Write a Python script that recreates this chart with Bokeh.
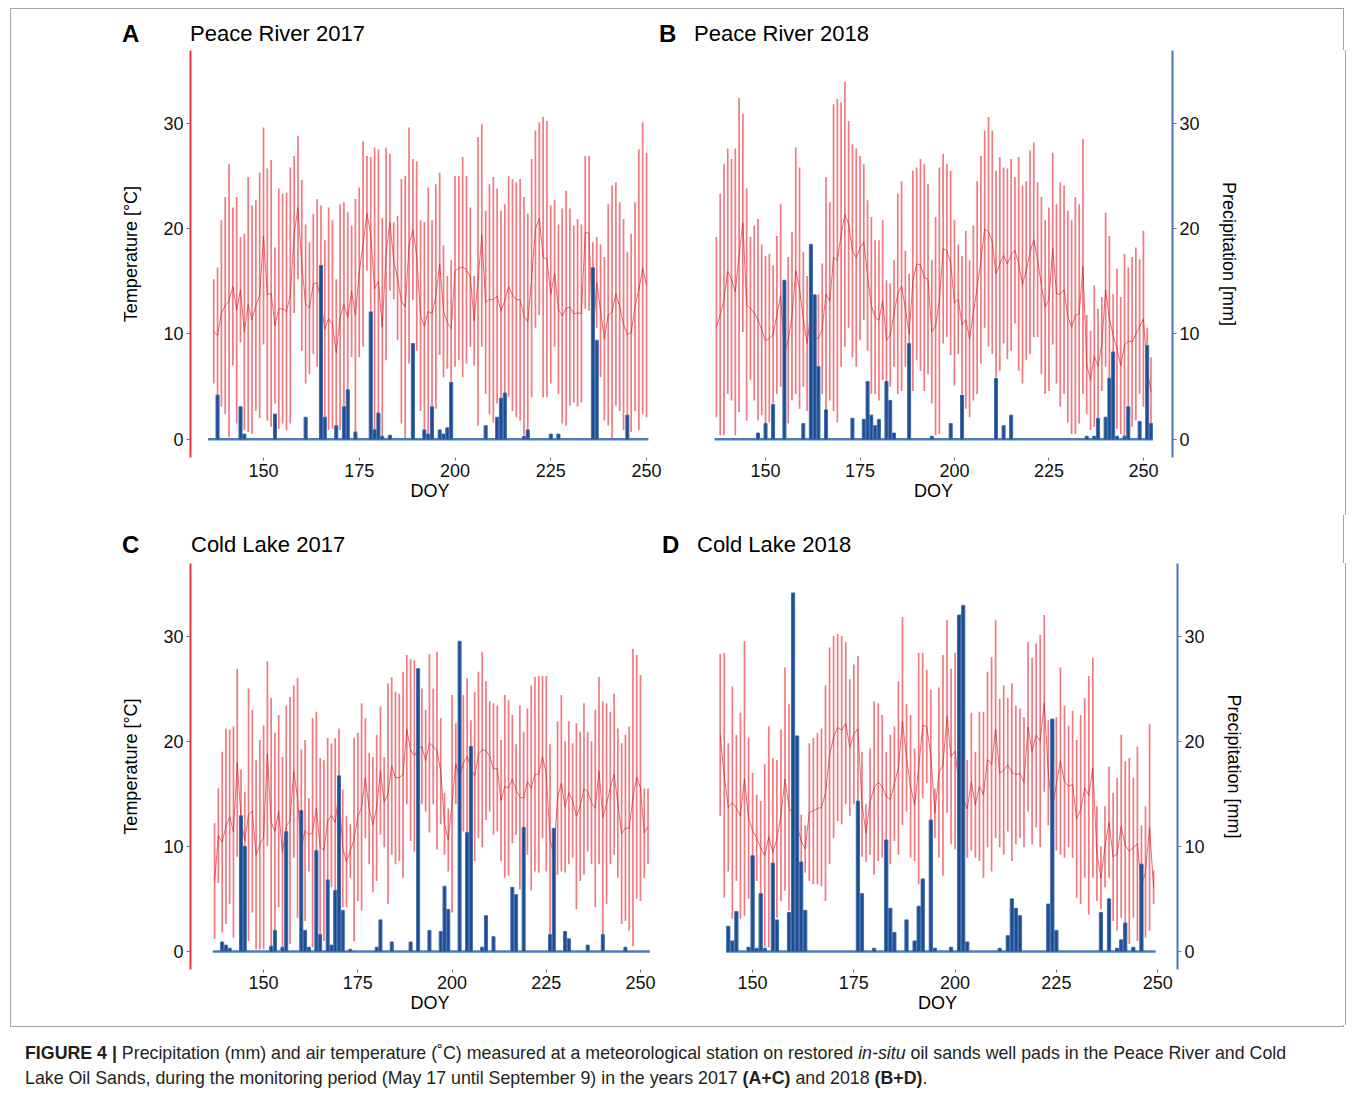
from bokeh.plotting import figure
from bokeh.layouts import column, row
from bokeh.models import Range1d, LinearAxis, FixedTicker, Div
from bokeh.embed import file_html
from bokeh.resources import INLINE

# ---------------- data ----------------
X_TICKS = [150, 175, 200, 225, 250]
Y_TICKS = [0, 10, 20, 30]

PANEL_LETTERS = ["A", "B", "C", "D"]
PANEL_TITLES = ["Peace River 2017", "Peace River 2018", "Cold Lake 2017", "Cold Lake 2018"]

# Panel A: Peace River 2017 (daily max / min air temperature, degC)
A_first_doy = 137
A_tmax = [15.2, 16.3, 20.8, 23.0, 26.1, 22.0, 23.0, 19.2, 19.5, 24.9,
          22.2, 22.7, 25.3, 29.6, 25.7, 26.5, 18.2, 23.8, 23.3, 23.4,
          25.8, 26.9, 28.8, 24.6, 20.4, 18.7, 21.4, 22.8, 22.2, 18.9,
          22.0, 20.8, 15.2, 22.3, 22.5, 21.6, 20.3, 22.8, 23.9, 28.3,
          26.9, 26.8, 27.7, 27.5, 21.0, 27.7, 27.1, 20.6, 21.2, 24.7,
          25.0, 29.6, 26.6, 26.4, 20.8, 20.6, 23.9, 20.8, 24.2, 25.3,
          18.4, 15.5, 17.0, 25.0, 25.0, 26.8, 25.0, 22.0, 15.5, 28.7,
          29.9, 21.7, 24.2, 24.9, 23.8, 21.7, 22.3, 25.0, 24.7, 24.4,
          24.7, 23.0, 21.4, 26.6, 29.3, 30.1, 30.6, 30.2, 22.2, 22.7,
          20.4, 21.9, 23.6, 21.9, 20.3, 20.9, 20.4, 26.9, 26.9, 18.7,
          19.2, 18.5, 17.3, 22.3, 24.1, 24.4, 22.5, 20.9, 17.8, 19.5,
          22.5, 27.5, 30.1, 27.2]
A_tmin = [5.3, 3.4, 3.1, 2.4, 0.2, 7.0, 1.5, 9.2, 0.9, 0.7,
          0.5, 2.7, 2.0, 9.0, 1.8, 1.2, 3.4, 1.0, 1.5, 0.9,
          1.5, 12.0, 15.2, 8.4, 5.3, 6.2, 8.1, 6.9, 4.0, 2.0,
          0.9, 1.0, 1.2, 0.9, 3.1, 1.5, 7.8, 0.7, 7.8, 8.8,
          16.0, 12.2, 0.9, 2.5, 0.3, 7.5, 14.1, 13.3, 9.4, 1.5,
          0.1, 7.2, 13.2, 8.4, 2.7, 0.9, 0.4, 3.1, 2.9, 8.0,
          5.9, 6.7, 4.0, 6.9, 7.5, 5.9, 7.2, 8.8, 7.0, 1.3,
          8.8, 4.3, 2.4, 1.6, 3.4, 2.7, 4.0, 4.0, 2.7, 2.1,
          1.8, 0.4, 0.9, 4.0, 10.6, 11.8, 4.0, 4.0, 5.3, 8.8,
          4.3, 1.5, 1.3, 3.2, 3.5, 3.1, 3.5, 12.4, 12.2, 0.2,
          10.6, 5.9, 1.8, 1.3, 0.1, 3.2, 2.7, 0.9, 2.1, 0.7,
          2.7, 0.9, 2.4, 2.1]
A_rain_first, A_rain_last = 136, 250
A_rain_doy = [138, 144, 145, 153, 161, 165, 166, 169, 171, 172, 174, 178, 179, 180,
              181, 183, 189, 192, 193, 194, 196, 197, 198, 199, 208, 211, 212, 213,
              218, 219, 225, 227, 236, 237, 245]
A_rain_mm = [4.2, 3.1, 0.5, 2.4, 2.1, 16.5, 2.1, 1.3, 3.1, 4.7, 0.7, 12.1, 0.9, 2.5,
             0.3, 0.4, 9.1, 0.9, 0.5, 3.1, 0.9, 0.5, 1.1, 5.4, 1.3, 2.1, 3.9, 4.4,
             0.3, 0.9, 0.5, 0.5, 16.3, 9.4, 2.3]

# Panel B: Peace River 2018
B_first_doy = 137
B_tmax = [19.2, 23.3, 26.1, 27.6, 26.6, 27.6, 32.4, 30.9, 23.8, 19.2,
          20.3, 20.9, 18.5, 17.4, 17.6, 16.5, 19.3, 22.3, 14.9, 17.3,
          19.7, 27.7, 25.8, 17.8, 15.5, 18.4, 13.8, 13.8, 16.7, 24.9,
          22.5, 31.8, 32.3, 32.0, 33.9, 30.2, 28.0, 27.6, 26.9, 26.1,
          22.7, 21.1, 18.9, 18.9, 20.8, 15.1, 14.8, 17.0, 23.3, 24.5,
          17.9, 15.7, 25.5, 25.8, 26.6, 26.1, 24.2, 17.0, 21.1, 25.8,
          27.1, 26.1, 25.5, 20.8, 18.5, 17.4, 19.8, 17.0, 20.3, 24.5,
          26.9, 29.3, 30.6, 29.3, 25.5, 26.8, 25.8, 25.7, 26.6, 24.9,
          26.8, 24.1, 24.5, 27.4, 28.2, 24.4, 23.0, 20.8, 22.0, 27.2,
          22.3, 24.4, 24.1, 21.7, 20.8, 23.0, 22.3, 28.5, 11.8, 10.3,
          14.6, 12.4, 13.5, 21.5, 19.3, 13.8, 16.2, 13.5, 17.6, 16.3,
          17.3, 18.2, 17.1, 19.8, 10.6, 7.8]
B_tmin = [2.1, 0.4, 0.4, 4.3, 3.7, 0.4, 2.6, 10.2, 1.8, 5.6,
          3.7, 1.8, 2.3, 1.3, 1.6, 3.4, 4.3, 5.0, 1.5, 1.5,
          3.7, 4.3, 2.9, 5.0, 2.7, 5.9, 5.6, 5.3, 4.3, 2.7,
          3.7, 2.7, 1.6, 6.9, 8.8, 10.6, 7.8, 6.9, 9.4, 11.3,
          8.4, 4.3, 4.3, 3.7, 5.6, 3.7, 5.0, 6.9, 4.3, 4.6,
          6.9, 4.3, 4.6, 7.5, 6.5, 4.6, 6.2, 3.4, 0.4, 0.5,
          9.1, 9.7, 8.0, 5.1, 8.1, 4.3, 2.9, 2.1, 3.7, 4.3,
          7.2, 10.6, 8.8, 8.1, 5.9, 6.5, 9.1, 7.6, 8.4, 11.0,
          6.5, 5.3, 7.5, 8.1, 9.7, 9.7, 6.2, 4.3, 4.6, 9.0,
          5.3, 3.1, 4.3, 1.6, 0.5, 0.5, 1.5, 4.3, 2.4, 0.9,
          1.2, 1.5, 4.6, 6.9, 3.7, 5.9, 1.0, 0.5, 0.2, 2.4,
          1.2, 1.8, 4.3, 3.1, 2.7, 1.3]
B_rain_first, B_rain_last = 137, 252
B_rain_doy = [148, 150, 152, 155, 160, 162, 163, 164, 166, 173, 176, 177, 178, 179,
              180, 182, 183, 184, 188, 194, 199, 202, 211, 213, 215, 235, 237, 238,
              240, 241, 242, 243, 245, 246, 249, 251, 252]
B_rain_mm = [0.6, 1.5, 3.3, 15.1, 1.5, 18.5, 13.7, 6.9, 2.8, 2.0, 1.9, 5.5, 2.3, 1.3,
             1.9, 5.5, 3.7, 0.6, 9.1, 0.3, 1.5, 4.2, 5.8, 1.3, 2.3, 0.3, 0.3, 2.0,
             2.1, 5.8, 8.3, 0.3, 0.3, 3.1, 1.7, 8.9, 1.5]

# Panel C: Cold Lake 2017
C_first_doy = 137
C_tmax = [12.2, 15.5, 19.0, 21.2, 21.1, 21.4, 26.9, 17.3, 15.2, 25.0,
          23.0, 18.2, 20.1, 21.5, 27.6, 24.1, 20.8, 22.5, 18.5, 23.4,
          24.2, 25.3, 26.0, 19.2, 20.1, 14.6, 22.2, 22.8, 18.4, 18.2,
          20.3, 19.8, 20.3, 21.2, 15.4, 12.9, 12.1, 20.3, 20.8, 23.6,
          22.2, 18.9, 18.5, 20.6, 23.3, 18.5, 25.5, 26.1, 24.7, 24.5,
          26.6, 28.2, 27.8, 27.7, 26.5, 25.0, 23.0, 28.3, 25.0, 28.5,
          22.2, 15.1, 13.6, 24.4, 21.7, 22.0, 24.4, 26.0, 22.0, 24.7,
          26.6, 28.5, 25.7, 23.8, 23.6, 23.4, 20.1, 24.4, 23.9, 22.5,
          19.7, 23.4, 20.9, 23.1, 25.3, 26.1, 26.2, 26.2, 26.2, 19.7,
          11.0, 21.9, 24.4, 20.0, 21.9, 19.8, 21.7, 20.9, 23.6, 20.9,
          20.0, 23.0, 26.1, 23.8, 23.6, 22.8, 24.5, 21.2, 19.8, 20.6,
          21.4, 28.8, 28.2, 26.3, 15.5, 15.5]
C_tmin = [1.2, 6.5, 1.8, 2.6, 4.5, 1.3, 9.0, 8.0, 5.8, 1.0,
          3.7, 0.2, 0.2, 0.2, 10.0, 0.5, 2.0, 4.2, 0.4, 0.4,
          0.7, 8.9, 3.2, 0.5, 2.9, 7.6, 0.4, 4.5, 1.5, 1.0,
          4.5, 6.1, 4.2, 9.2, 4.2, 4.2, 7.0, 1.0, 4.8, 3.9,
          10.8, 8.3, 5.6, 6.7, 11.1, 9.9, 4.5, 9.2, 8.3, 8.6,
          7.0, 14.0, 10.5, 9.5, 12.0, 14.0, 13.3, 11.3, 14.0, 9.7,
          12.1, 9.2, 7.6, 3.7, 14.0, 11.0, 11.4, 11.1, 13.0, 8.6,
          10.8, 9.9, 12.5, 13.3, 11.1, 11.4, 8.6, 7.0, 7.2, 10.3,
          11.1, 5.9, 8.3, 9.2, 5.8, 7.6, 7.5, 10.8, 7.6, 1.6,
          7.3, 7.3, 7.6, 7.5, 8.3, 8.9, 4.0, 6.7, 7.3, 9.5,
          8.3, 4.2, 8.3, 1.6, 4.5, 8.3, 9.2, 7.0, 2.6, 2.9,
          2.0, 0.5, 5.0, 4.8, 7.0, 8.3]
C_rain_first, C_rain_last = 137, 252
C_rain_doy = [139, 140, 141, 144, 145, 152, 153, 155, 156, 160, 161, 162, 164, 165,
              167, 168, 169, 170, 171, 173, 180, 181, 184, 189, 191, 194, 197, 198,
              199, 202, 204, 205, 208, 209, 211, 216, 217, 219, 226, 227, 230, 231,
              236, 240, 246]
C_rain_mm = [0.9, 0.6, 0.3, 12.9, 10.0, 0.5, 2.0, 0.4, 11.4, 13.4, 2.0, 0.4, 9.6, 1.6,
             6.8, 0.6, 5.8, 16.7, 3.9, 0.2, 0.4, 3.0, 0.9, 0.9, 26.9, 2.0, 1.9, 6.2,
             4.0, 29.5, 11.3, 19.5, 0.4, 3.4, 1.4, 6.1, 5.4, 11.8, 1.6, 11.7, 1.9, 1.2,
             0.6, 1.6, 0.4]

# Panel D: Cold Lake 2018
D_first_doy = 142
D_tmax = [28.3, 28.4, 19.8, 25.2, 20.6, 22.7, 29.5, 20.3, 17.0, 14.9,
          14.3, 17.8, 21.4, 18.4, 18.2, 21.1, 27.0, 23.5, 17.0, 14.0,
          13.0, 12.0, 19.8, 20.3, 20.8, 21.2, 25.3, 28.9, 30.0, 30.2,
          30.0, 29.4, 25.9, 27.3, 28.1, 19.0, 14.0, 19.3, 23.8, 23.6,
          22.5, 19.0, 20.6, 21.4, 25.7, 31.8, 23.5, 22.5, 19.3, 28.4,
          28.4, 26.8, 24.9, 15.5, 25.1, 28.2, 31.5, 26.9, 28.4, 21.0,
          20.0, 18.2, 22.7, 19.0, 22.8, 22.8, 26.6, 28.0, 31.5, 24.0,
          25.3, 24.1, 25.5, 23.4, 23.1, 22.3, 29.4, 27.9, 29.3, 30.1,
          32.0, 22.0, 17.0, 22.3, 27.0, 23.4, 21.5, 22.9, 20.1, 22.5,
          24.1, 26.2, 27.9, 13.8, 10.0, 13.8, 17.6, 15.1, 16.5, 20.6,
          18.1, 18.4, 16.5, 19.5, 12.0, 13.8, 21.6, 7.7]
D_tmin = [12.9, 5.1, 7.6, 3.1, 6.7, 3.1, 3.4, 5.0, 6.0, 6.7,
          5.4, 0.4, 0.4, 0.4, 3.2, 4.8, 5.8, 3.9, 9.0, 10.0,
          8.0, 7.5, 6.7, 6.4, 6.4, 6.2, 4.8, 8.3, 10.8, 12.4,
          12.1, 14.0, 12.9, 14.0, 14.3, 9.0, 8.5, 9.2, 7.3, 8.6,
          8.9, 10.5, 8.3, 10.5, 9.2, 12.0, 13.3, 8.9, 8.6, 6.4,
          14.6, 16.0, 12.4, 10.8, 8.9, 7.2, 13.2, 10.2, 9.7, 10.0,
          9.0, 8.9, 9.6, 8.9, 8.6, 7.0, 9.9, 7.6, 10.8, 9.9,
          9.2, 11.4, 8.6, 10.2, 10.8, 9.9, 13.3, 10.2, 11.8, 9.9,
          15.2, 12.0, 10.0, 9.6, 9.2, 8.9, 9.9, 8.9, 5.1, 4.5,
          7.0, 3.5, 7.0, 4.8, 4.0, 6.1, 7.0, 2.9, 2.0, 3.2,
          2.0, 0.7, 3.2, 1.0, 0.4, 1.3, 2.0, 4.5]
D_rain_first, D_rain_last = 144, 249
D_rain_doy = [144, 145, 146, 149, 150, 151, 152, 153, 155, 156, 159, 160, 161, 162,
              163, 176, 177, 180, 183, 184, 185, 188, 190, 191, 192, 194, 195, 199,
              201, 202, 203, 211, 213, 214, 215, 216, 223, 224, 225, 236, 238, 240,
              241, 242, 244, 246]
D_rain_mm = [2.4, 1.0, 3.8, 0.4, 9.1, 0.3, 5.5, 0.3, 8.4, 3.0, 3.7, 34.1, 20.5, 8.5,
             3.9, 14.3, 5.5, 0.3, 10.6, 4.1, 1.8, 3.0, 1.0, 4.3, 6.9, 12.5, 0.3, 0.4,
             32.0, 32.9, 0.9, 0.3, 1.5, 5.0, 4.1, 3.4, 4.5, 22.1, 2.0, 3.7, 5.0, 0.3,
             1.1, 2.7, 0.4, 8.3]

# ---------------- styling ----------------
FONT = "Liberation Sans"
CSS_FONT = "'Liberation Sans',Arial,sans-serif"
RED_AXIS = "#E5353B"
RED_LINE = "#EC3A42"
RED_MID = "#D81E26"
BLUE_AXIS = "#4B77B4"
BAR_FILL = "#1F4C8C"
BAR_LINE = "#3D6CB0"
BASE_LINE = "#4C7CBC"
TXT = "#111111"
TICK = "#777777"
BOX = "#A3A3A3"
YR = (-1.72, 36.9)


def panel(W, H, bl, br, bt, bb, xr, first_doy, tmax, tmin,
          rain_doy, rain_mm, rain_first, rain_last, side):
    p = figure(width=W, height=H, x_range=Range1d(*xr), y_range=Range1d(*YR),
               output_backend="svg", toolbar_location=None,
               x_axis_location=None, y_axis_location=None,
               min_border_left=bl, min_border_right=br,
               min_border_top=bt, min_border_bottom=bb,
               outline_line_color=None, border_fill_alpha=0.0,
               background_fill_color="white")
    p.xgrid.visible = False
    p.ygrid.visible = False

    days = list(range(first_doy, first_doy + len(tmax)))
    mid = [(a + b) / 2.0 for a, b in zip(tmax, tmin)]
    p.segment(x0=days, y0=tmin, x1=days, y1=tmax, line_color=RED_LINE,
              line_alpha=0.68, line_width=1.7)
    p.line(days, mid, line_color=RED_MID, line_alpha=0.65, line_width=1.0)

    p.line([rain_first - 0.5, rain_last + 0.5], [0, 0], line_color=BASE_LINE,
           line_width=2.5)
    p.vbar(x=rain_doy, top=rain_mm, bottom=0, width=0.8, fill_color=BAR_FILL,
           line_color=BAR_LINE, line_width=1.0)

    xa = LinearAxis(ticker=FixedTicker(ticks=X_TICKS, minor_ticks=[]),
                    axis_label="DOY")
    xa.axis_line_color = None
    xa.major_tick_line_color = TICK
    xa.major_tick_out = 3
    xa.major_tick_in = 0
    xa.major_label_standoff = 3
    xa.axis_label_standoff = 1
    xa.major_label_text_font = FONT
    xa.major_label_text_font_size = "18px"
    xa.major_label_text_color = TXT
    xa.axis_label_text_font = FONT
    xa.axis_label_text_font_size = "18px"
    xa.axis_label_text_font_style = "normal"
    xa.axis_label_text_color = "#000000"
    p.add_layout(xa, "below")

    if side == "left":
        ya = LinearAxis(ticker=FixedTicker(ticks=Y_TICKS, minor_ticks=[]),
                        axis_label="Temperature [°C]")
        ya.axis_line_color = RED_AXIS
        ya.axis_label_standoff = 19
    else:
        ya = LinearAxis(ticker=FixedTicker(ticks=Y_TICKS, minor_ticks=[]),
                        axis_label="Precipitation [mm]")
        ya.axis_line_color = BLUE_AXIS
        ya.axis_label_standoff = 16
    ya.axis_line_width = 2
    ya.major_tick_line_color = TICK
    ya.major_tick_out = 4
    ya.major_tick_in = 0
    ya.major_label_standoff = 3
    ya.major_label_text_font = FONT
    ya.major_label_text_font_size = "18px"
    ya.major_label_text_color = TXT
    ya.axis_label_text_font = FONT
    ya.axis_label_text_font_size = "18px"
    ya.axis_label_text_font_style = "normal"
    ya.axis_label_text_color = "#000000"
    p.add_layout(ya, side)
    return p


def title_strip(h, letters, letter_x, titles, title_x, baseline, top_line):
    # HTML strip with the panel letters / titles and the light frame around the figure
    top = 8 if top_line else 0
    border_top = f"border-top:1px solid {BOX};" if top_line else ""
    html = [f'<div style="position:relative;width:1355px;height:{h}px;">',
            f'<div style="position:absolute;left:10px;top:{top}px;width:1334px;'
            f'height:{h - top}px;border-left:1px solid {BOX};border-right:1px solid {BOX};'
            f'{border_top}"></div>']
    for txt, x in zip(letters, letter_x):
        html.append(f'<span style="position:absolute;left:{x}px;top:{baseline - 20}px;'
                    f'font-family:{CSS_FONT};font-size:24px;line-height:24px;'
                    f'font-weight:bold;color:#000;white-space:nowrap;">{txt}</span>')
    for txt, x in zip(titles, title_x):
        html.append(f'<span style="position:absolute;left:{x}px;top:{baseline - 19}px;'
                    f'font-family:{CSS_FONT};font-size:22px;line-height:22px;'
                    f'color:#000;white-space:nowrap;">{txt}</span>')
    html.append('</div>')
    return Div(text="".join(html), width=1355, height=h, margin=0)


def side_strip(h, left):
    ml = 10 if left else 1
    return Div(text=(f'<div style="margin:0 0 0 {ml}px;width:0;height:{h}px;'
                     f'border-left:1px solid {BOX};"></div>'),
               width=11, height=h, margin=0)


# geometry
A_xr = (130.94, 256.0)
B_xr = (131.2, 257.7)
C_xr = (130.6, 257.7)
D_xr = (136.4, 254.9)

pA = panel(669, 465, 179, 11, 0, 58, A_xr, A_first_doy, A_tmax, A_tmin,
           A_rain_doy, A_rain_mm, A_rain_first, A_rain_last, "left")
pB = panel(664, 465, 14, 172, 0, 58, B_xr, B_first_doy, B_tmax, B_tmin,
           B_rain_doy, B_rain_mm, B_rain_first, B_rain_last, "right")
pC = panel(669, 462, 179, 11, 0, 56, C_xr, C_first_doy, C_tmax, C_tmin,
           C_rain_doy, C_rain_mm, C_rain_first, C_rain_last, "left")
pD = panel(664, 462, 17, 167, 0, 56, D_xr, D_first_doy, D_tmax, D_tmin,
           D_rain_doy, D_rain_mm, D_rain_first, D_rain_last, "right")

t1 = title_strip(50, PANEL_LETTERS[0:2], [122, 659], PANEL_TITLES[0:2], [190, 694], 42, True)
t2 = title_strip(48, PANEL_LETTERS[2:4], [122, 662], PANEL_TITLES[2:4], [191, 697], 38, False)

caption_html = (
    f'<div style="margin:0 0 0 10px;width:1334px;height:2px;border-left:1px solid {BOX};'
    f'border-right:1px solid {BOX};border-bottom:1px solid {BOX};"></div>'
    f'<div style="font-family:{CSS_FONT};font-size:17.8px;'
    'line-height:25px;color:#231f20;padding:14px 0 0 25px;white-space:nowrap;">'
    '<div><b>FIGURE 4 |</b><span> Precipitation (mm) and air temperature (&#730;C) measured '
    'at a meteorological station on restored </span><i>in-situ</i><span> oil sands well '
    'pads in the Peace River and Cold</span></div>'
    '<div><span>Lake Oil Sands, during the monitoring period (May 17 until September 9) in '
    'the years 2017 </span><b>(A+C)</b><span> and 2018 </span><b>(B+D)</b><span>.</span></div>'
    '</div>'
)
caption = Div(text=caption_html, width=1355, height=68, margin=0)

layout = column(
    t1,
    row(side_strip(465, True), pA, pB, side_strip(465, False), spacing=0),
    t2,
    row(side_strip(462, True), pC, pD, side_strip(462, False), spacing=0),
    caption,
    spacing=0,
)

with open("out.html", "w") as f:
    f.write(file_html(layout, INLINE))
